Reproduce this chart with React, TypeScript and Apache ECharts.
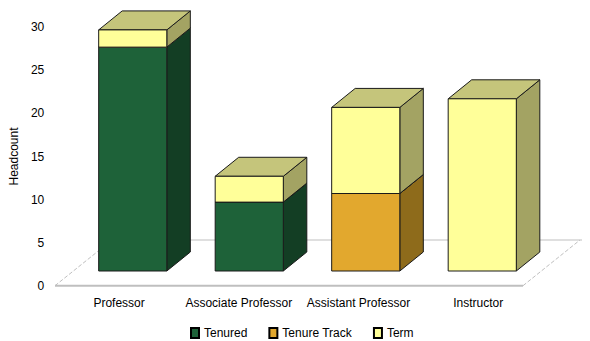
import React, { useEffect, useRef } from "react";
import * as echarts from "echarts";

const categories = ["Professor", "Associate Professor", "Assistant Professor", "Instructor"];
const tenured = [26, 8, 0, 0];
const tenureTrack = [0, 0, 9, 0];
const term = [2, 3, 10, 20];
const yTicks = [0, 5, 10, 15, 20, 25, 30];

const FONT = "Liberation Sans";
const DX = 23.5;
const DY = -19;

const seriesDefs = [
  { name: "Tenured", values: tenured, front: "#1E6239", side: "#133E24", top: "#2C7A4B" },
  { name: "Tenure Track", values: tenureTrack, front: "#E2A82E", side: "#8E6B1B", top: "#B8892C" },
  { name: "Term", values: term, front: "#FFFF99", side: "#A3A363", top: "#C5C57B" },
];

function buildStacks() {
  const base = categories.map(() => 0);
  return seriesDefs.map((s) => {
    const data = s.values.map((v, i) => {
      const b = base[i];
      base[i] += v;
      return [i, b, b + v, v];
    });
    return { ...s, data };
  });
}

export default function App() {
  const ref = useRef<HTMLDivElement>(null);
  useEffect(() => {
    if (!ref.current) return;
    const chart = echarts.init(ref.current, null, { renderer: "svg" });
    const stacks = buildStacks();
    const series = stacks.map((s) => ({
      type: "custom",
      name: s.name,
      xAxisIndex: 1,
      yAxisIndex: 1,
      itemStyle: { color: s.front, borderColor: "#000", borderWidth: 1 },
      data: s.data,
      encode: { x: 0, y: [1, 2] },
      renderItem: (params: any, api: any) => {
        const idx = api.value(0);
        const b = api.value(1);
        const t = api.value(2);
        if (api.value(3) <= 0) return null;
        const p0 = api.coord([idx, b]);
        const p1 = api.coord([idx, t]);
        const bw = api.size([1, 0])[0] * 0.585;
        const x0 = p0[0] - bw / 2;
        const x1 = x0 + bw;
        const yb = p0[1];
        const yt = p1[1];
        const stroke = { stroke: "#1a1a1a", lineWidth: 1 };
        return {
          type: "group",
          children: [
            {
              type: "polygon",
              shape: { points: [[x1, yb], [x1 + DX, yb + DY], [x1 + DX, yt + DY], [x1, yt]] },
              style: { fill: s.side, ...stroke },
            },
            {
              type: "polygon",
              shape: { points: [[x0, yt], [x0 + DX, yt + DY], [x1 + DX, yt + DY], [x1, yt]] },
              style: { fill: s.top, ...stroke },
            },
            {
              type: "rect",
              shape: { x: x0, y: yt, width: bw, height: yb - yt },
              style: { fill: s.front, ...stroke },
            },
          ],
        };
      },
    }));

    const floorColor = "#BFBFBF";
    chart.setOption({
      animation: false,
      textStyle: { fontFamily: FONT },
      grid: [
        { left: 58, right: 52, top: 27.3, bottom: 55.3 },
        { left: 74.5, right: 49.5, top: 12.7, bottom: 70 },
      ],
      xAxis: [
        {
          type: "category",
          gridIndex: 0,
          data: categories,
          axisLine: { show: false },
          axisTick: { show: false },
          axisLabel: { color: "#000", fontSize: 12, fontFamily: FONT, margin: 11, interval: 0 },
        },
        {
          type: "category",
          gridIndex: 1,
          data: categories,
          show: false,
        },
      ],
      yAxis: [
        {
          type: "value",
          gridIndex: 0,
          min: yTicks[0],
          max: yTicks[yTicks.length - 1],
          interval: 5,
          axisLine: { show: false },
          axisTick: { show: false },
          splitLine: { show: false },
          axisLabel: { color: "#000", fontSize: 12, fontFamily: FONT, margin: 15 },
          name: "Headcount",
          nameLocation: "middle",
          nameGap: 33,
          nameTextStyle: { color: "#000", fontSize: 12, fontFamily: FONT },
        },
        {
          type: "value",
          gridIndex: 1,
          min: 0,
          max: 30,
          show: false,
        },
      ],
      legend: {
        data: seriesDefs.map((s) => s.name),
        left: 190,
        top: 327,
        padding: 0,
        itemWidth: 8,
        itemHeight: 10,
        itemGap: 21,
        textStyle: { color: "#000", fontSize: 12, fontFamily: FONT },
        icon: "rect",
      },
      graphic: [
        {
          type: "line",
          z: 0,
          shape: { x1: 112, y1: 240, x2: 582, y2: 240 },
          style: { stroke: floorColor, lineWidth: 1 },
        },
        {
          type: "line",
          z: 0,
          shape: { x1: 55, y1: 285.7, x2: 112, y2: 240 },
          style: { stroke: floorColor, lineWidth: 1, lineDash: [4, 2] },
        },
        {
          type: "line",
          z: 0,
          shape: { x1: 523, y1: 285.7, x2: 580, y2: 240 },
          style: { stroke: floorColor, lineWidth: 1, lineDash: [4, 2] },
        },
        {
          type: "line",
          z: 0,
          shape: { x1: 55, y1: 285.7, x2: 523, y2: 285.7 },
          style: { stroke: floorColor, lineWidth: 2 },
        },
      ],
      series,
    });
    return () => chart.dispose();
  }, []);
  return (
    <div
      ref={ref}
      style={{ position: "fixed", left: 0, top: 0, width: 590, height: 341, background: "#fff" }}
    />
  );
}
